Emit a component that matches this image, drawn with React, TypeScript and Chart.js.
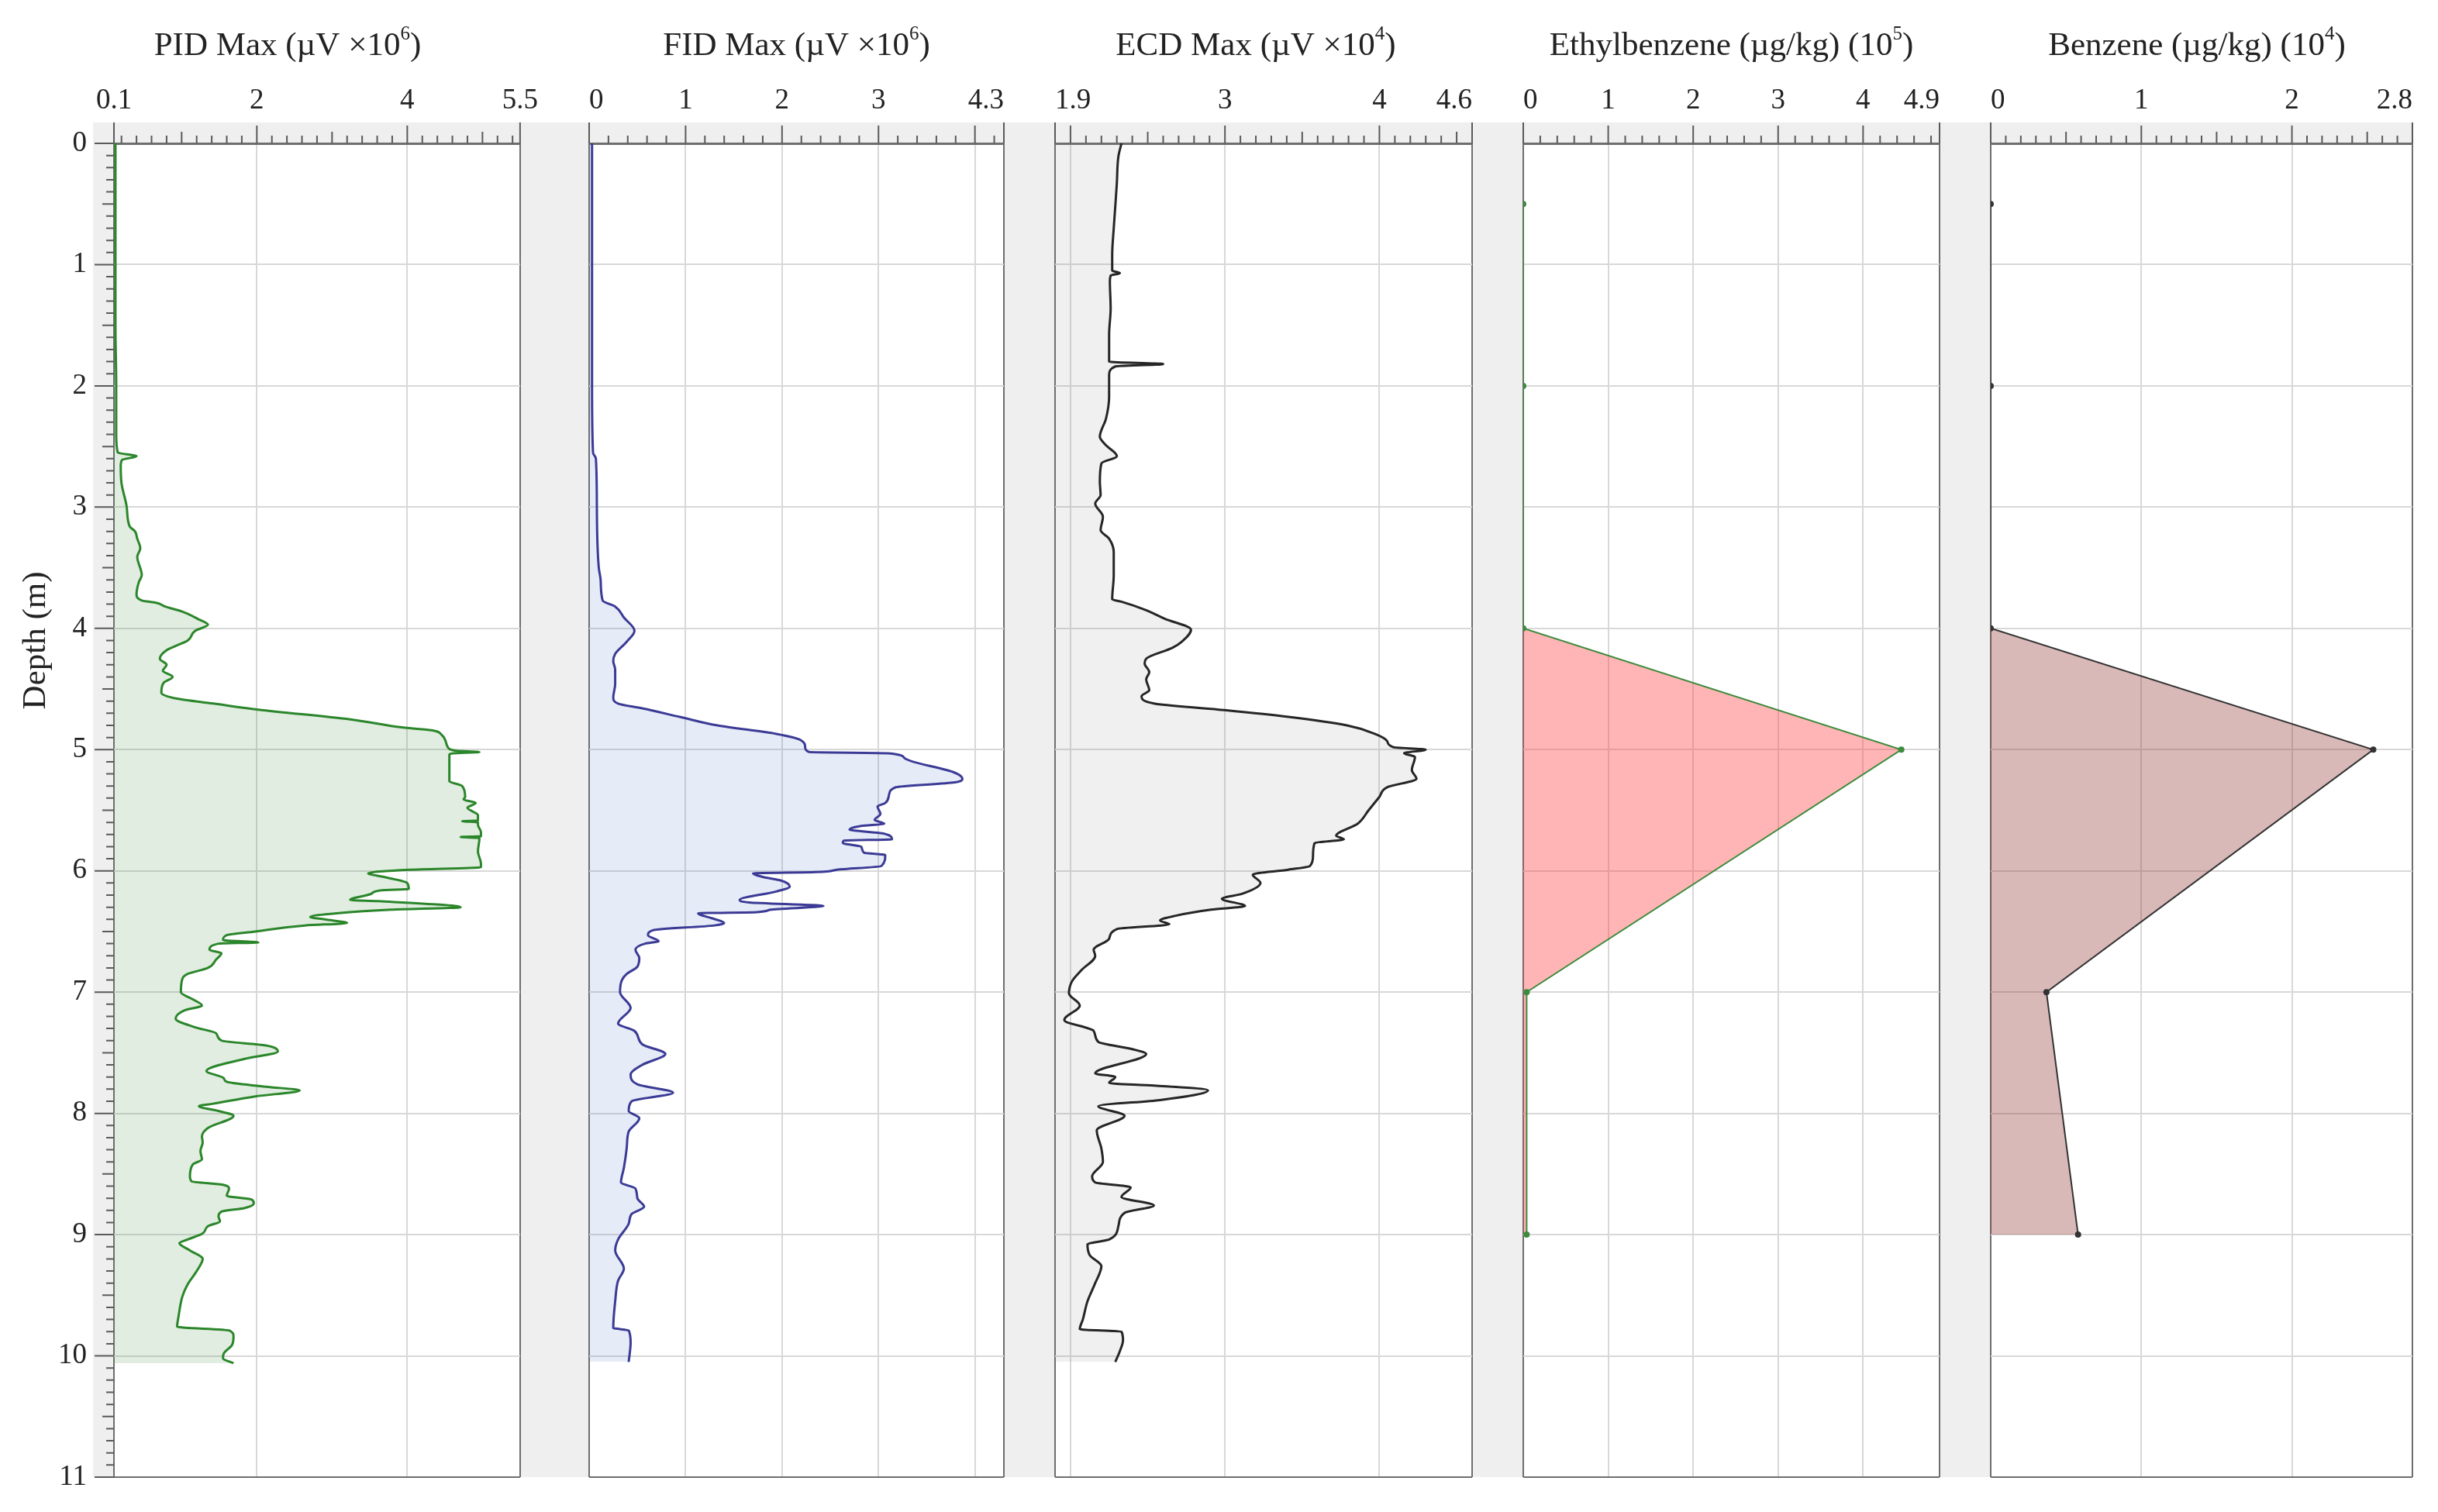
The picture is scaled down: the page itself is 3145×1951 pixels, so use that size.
import { useEffect, useRef } from 'react'
import { Chart, registerables } from 'chart.js'

Chart.register(...registerables)

// ---- readings off the log (depth in m) ----

const pidDepth = [
  0, 0.5, 1, 1.5, 2, 2.4, 2.55, 2.58, 2.61, 2.65, 2.8, 3, 3.16, 3.2, 3.26, 3.34, 3.41, 3.56, 3.62, 3.72,
  3.77, 3.79, 3.82, 3.86, 3.92, 3.97, 4.02, 4.1, 4.15, 4.18, 4.25, 4.3, 4.35, 4.4, 4.45, 4.53, 4.58, 4.62,
  4.67, 4.75, 4.82, 4.84, 4.88, 4.93, 4.98, 5.01, 5.02, 5.03, 5.04, 5.26, 5.3, 5.39, 5.41, 5.44, 5.48, 5.54,
  5.585, 5.59, 5.6, 5.62, 5.68, 5.715, 5.72, 5.73, 5.84, 5.94, 5.97, 5.99, 6.02, 6.05, 6.1, 6.15, 6.16,
  6.19, 6.24, 6.25, 6.3, 6.32, 6.35, 6.38, 6.4, 6.43, 6.45, 6.5, 6.53, 6.57, 6.59, 6.6, 6.65, 6.68, 6.73,
  6.8, 6.85, 6.89, 7, 7.06, 7.11, 7.15, 7.22, 7.29, 7.34, 7.4, 7.44, 7.49, 7.55, 7.65, 7.71, 7.74, 7.78,
  7.81, 7.86, 7.92, 7.94, 7.98, 8.02, 8.12, 8.19, 8.24, 8.31, 8.38, 8.42, 8.52, 8.56, 8.59, 8.62, 8.68,
  8.71, 8.74, 8.78, 8.81, 8.85, 8.89, 8.93, 8.99, 9.04, 9.07, 9.13, 9.2, 9.25, 9.32, 9.41, 9.51, 9.67,
  9.76, 9.79, 9.84, 9.91, 9.98, 10.02, 10.06,
]
const pidMax = [
  0.12, 0.12, 0.12, 0.12, 0.13, 0.13, 0.15, 0.4, 0.21, 0.19, 0.2, 0.27, 0.31, 0.38, 0.41, 0.45, 0.41, 0.47, 0.43, 0.4,
  0.47, 0.67, 0.78, 1.0, 1.21, 1.35, 1.18, 1.08, 0.9, 0.8, 0.71, 0.8, 0.75, 0.88, 0.76, 0.73, 0.94, 1.42,
  2.02, 3.24, 3.97, 4.32, 4.46, 4.51, 4.54, 4.66, 4.96, 4.62, 4.56, 4.56, 4.73, 4.77, 4.75, 4.91, 4.8, 4.94,
  4.94, 4.73, 4.94, 4.94, 4.98, 4.98, 4.71, 4.96, 4.94, 4.98, 4.98, 4.04, 3.48, 3.69, 4.0, 4.02, 3.66,
  3.52, 3.24, 3.62, 4.71, 3.79, 3.06, 2.71, 2.9, 3.2, 2.64, 1.98, 1.6, 1.55, 2.02, 1.49, 1.37, 1.53, 1.46,
  1.35, 1.08, 1.01, 0.99, 1.15, 1.27, 1.04, 0.92, 1.18, 1.46, 1.53, 2.12, 2.28, 1.84, 1.33, 1.56, 1.6, 2.12,
  2.57, 1.98, 1.42, 1.23, 1.49, 1.69, 1.35, 1.27, 1.28, 1.25, 1.27, 1.15, 1.11, 1.13, 1.56, 1.63, 1.6,
  1.93, 1.96, 1.84, 1.53, 1.49, 1.51, 1.35, 1.28, 1.08, 0.97, 1.11, 1.28, 1.25, 1.18, 1.08, 1.01, 0.96,
  0.94, 1.63, 1.69, 1.67, 1.56, 1.55, 1.69,
]

const fidDepth = [
  0, 1, 2, 2.55, 2.6, 3, 3.5, 3.61, 3.77, 3.82, 3.91, 4.02, 4.11, 4.21, 4.27, 4.34, 4.41, 4.46, 4.57, 4.62,
  4.66, 4.73, 4.8, 4.87, 4.92, 4.98, 5.02, 5.03, 5.07, 5.19, 5.24, 5.27, 5.31, 5.37, 5.44, 5.47, 5.53, 5.58,
  5.61, 5.63, 5.66, 5.69, 5.74, 5.75, 5.77, 5.8, 5.85, 5.87, 5.96, 5.99, 6.01, 6.02, 6.05, 6.08, 6.13, 6.17,
  6.24, 6.26, 6.29, 6.32, 6.34, 6.35, 6.39, 6.43, 6.45, 6.49, 6.53, 6.58, 6.6, 6.65, 6.72, 6.79, 6.85, 6.9,
  7, 7.13, 7.26, 7.32, 7.43, 7.51, 7.6, 7.68, 7.76, 7.83, 7.9, 7.98, 8.04, 8.15, 8.28, 8.45, 8.57, 8.62,
  8.7, 8.77, 8.83, 8.91, 9.04, 9.13, 9.28, 9.38, 9.55, 9.77, 9.79, 9.89, 10.05,
]
const fidMax = [
  0.03, 0.03, 0.03, 0.04, 0.07, 0.08, 0.1, 0.12, 0.14, 0.27, 0.36, 0.47, 0.39, 0.27, 0.25, 0.27, 0.27, 0.27, 0.25, 0.3,
  0.55, 0.94, 1.33, 1.94, 2.19, 2.24, 2.28, 3.1, 3.27, 3.79, 3.87, 3.79, 3.18, 3.11, 3.07, 2.99, 3.02, 2.96,
  3.06, 2.82, 2.7, 3.04, 3.14, 2.64, 2.63, 2.82, 2.85, 3.07, 3.03, 2.57, 2.35, 1.7, 1.8, 1.99, 2.08, 1.94,
  1.56, 1.66, 2.43, 1.88, 1.74, 1.13, 1.27, 1.4, 1.3, 0.66, 0.61, 0.72, 0.58, 0.48, 0.52, 0.5, 0.39, 0.34,
  0.32, 0.43, 0.3, 0.47, 0.55, 0.79, 0.55, 0.43, 0.5, 0.87, 0.44, 0.41, 0.52, 0.41, 0.39, 0.36, 0.33, 0.48,
  0.5, 0.57, 0.44, 0.41, 0.3, 0.27, 0.36, 0.3, 0.27, 0.25, 0.41, 0.43, 0.41,
]

const ecdDepth = [
  0, 0.11, 0.33, 0.52, 0.7, 0.92, 1.05, 1.07, 1.09, 1.14, 1.36, 1.58, 1.8, 1.82, 1.84, 1.91, 2.09, 2.27, 2.42,
  2.49, 2.58, 2.64, 2.79, 2.9, 2.97, 3.08, 3.19, 3.26, 3.37, 3.56, 3.76, 3.78, 3.85, 3.92, 4.01, 4.11, 4.16,
  4.25, 4.29, 4.36, 4.42, 4.51, 4.56, 4.62, 4.67, 4.73, 4.8, 4.87, 4.93, 4.98, 5.0, 5.03, 5.06, 5.17, 5.24,
  5.31, 5.39, 5.5, 5.61, 5.71, 5.74, 5.77, 5.88, 5.96, 5.99, 6.03, 6.1, 6.19, 6.23, 6.29, 6.32, 6.37, 6.41,
  6.44, 6.48, 6.56, 6.65, 6.7, 6.82, 6.91, 7.01, 7.11, 7.23, 7.32, 7.41, 7.47, 7.51, 7.67, 7.7, 7.75, 7.77,
  7.81, 7.89, 7.94, 8.02, 8.14, 8.29, 8.4, 8.52, 8.57, 8.61, 8.69, 8.76, 8.82, 8.93, 9.04, 9.08, 9.17, 9.26,
  9.4, 9.55, 9.7, 9.78, 9.8, 9.87, 9.96, 10.05,
]
const ecdMax = [
  2.33, 2.31, 2.3, 2.29, 2.28, 2.27, 2.27, 2.32, 2.26, 2.255, 2.26, 2.25, 2.25, 2.6, 2.29, 2.25, 2.25, 2.23, 2.19,
  2.23, 2.3, 2.2, 2.19, 2.195, 2.16, 2.21, 2.195, 2.25, 2.28, 2.28, 2.27, 2.33, 2.49, 2.61, 2.78, 2.72, 2.66,
  2.49, 2.48, 2.51, 2.49, 2.51, 2.46, 2.54, 2.96, 3.41, 3.79, 3.97, 4.05, 4.09, 4.3, 4.16, 4.23, 4.21, 4.24,
  4.05, 4.0, 3.93, 3.86, 3.72, 3.77, 3.58, 3.57, 3.55, 3.41, 3.18, 3.23, 3.11, 2.98, 3.13, 2.91, 2.68, 2.58,
  2.64, 2.3, 2.25, 2.15, 2.16, 2.07, 2.01, 1.99, 2.06, 1.96, 2.15, 2.18, 2.4, 2.49, 2.16, 2.29, 2.25, 2.54,
  2.89, 2.58, 2.18, 2.35, 2.17, 2.2, 2.21, 2.14, 2.16, 2.39, 2.33, 2.54, 2.35, 2.31, 2.25, 2.11, 2.125, 2.2,
  2.16, 2.11, 2.08, 2.06, 2.33, 2.34, 2.32, 2.29,
]

// soil samples
const sampleDepth = [0.5, 2, 4, 5, 7, 9]
const ethylbenzene = [0, 0, 0, 4.45, 0.04, 0.04]
const benzene = [0, 0, 0, 2.54, 0.37, 0.58]

// axis ticks
const depthTicks = [0, 1, 2, 3, 4, 5, 6, 7, 8, 9, 10, 11]
const pidTicks = [0.1, 2, 4, 5.5]
const fidTicks = [0, 1, 2, 3, 4, 4.3]
const ecdTicks = [1.9, 2, 3, 4, 4.6]
const ethTicks = [0, 1, 2, 3, 4, 4.9]
const benzTicks = [0, 1, 2, 2.8]
const fidUnlabelled = [4]
const ecdUnlabelled = [2]

// ---- layout ----
const PAGE_W = 3145
const PAGE_H = 1951
const PLOT_TOP = 185
const PLOT_BOTTOM = 1906
const BAND_TOP = 158
// the depth labels reserve (half a label + tick padding) below the plot, so the first track
// gets a taller canvas and a matching bottom padding
const DEPTH_AXIS_EXTRA = 25
const FONT = '"Liberation Serif", "Times New Roman", serif'
const TEXT = '#222222'
const BAND = '#efefef'
const GRID = '#d8d8d8'
const EDGE = '#6e6e6e'
const TICK = '#5a5a5a'

interface Track {
  title: [string, string, string]
  titleShift: number
  depth: number[]
  values: number[]
  min: number
  max: number
  ticks: number[]
  unlabelled: number[]
  minorStep: number
  majorStep: number
  midStep: number | null
  line: string
  fill: string
  lineWidth: number
  markers: boolean
  plotLeft: number
  plotRight: number
}

const tracks: Track[] = [
  {
    title: ['PID Max (µV ×10', '6', ')'], titleShift: -38,
    depth: pidDepth, values: pidMax, min: 0.1, max: 5.5, ticks: pidTicks, unlabelled: [],
    minorStep: 0.2, majorStep: 2, midStep: 1,
    line: '#2b862b', fill: 'rgba(80,150,70,0.17)', lineWidth: 3, markers: false,
    plotLeft: 147, plotRight: 701,
  },
  {
    title: ['FID Max (µV ×10', '6', ')'], titleShift: 0,
    depth: fidDepth, values: fidMax, min: 0, max: 4.3, ticks: fidTicks, unlabelled: fidUnlabelled,
    minorStep: 0.2, majorStep: 1, midStep: null,
    line: '#3b3b96', fill: 'rgba(90,130,200,0.15)', lineWidth: 3, markers: false,
    plotLeft: 753, plotRight: 1303,
  },
  {
    title: ['ECD Max (µV ×10', '4', ')'], titleShift: -10,
    depth: ecdDepth, values: ecdMax, min: 1.9, max: 4.6, ticks: ecdTicks, unlabelled: ecdUnlabelled,
    minorStep: 0.1, majorStep: 1, midStep: 0.5,
    line: '#262626', fill: 'rgba(128,128,128,0.12)', lineWidth: 3, markers: false,
    plotLeft: 1353, plotRight: 1907,
  },
  {
    title: ['Ethylbenzene (µg/kg) (10', '5', ')'], titleShift: 0,
    depth: sampleDepth, values: ethylbenzene, min: 0, max: 4.9, ticks: ethTicks, unlabelled: [],
    minorStep: 0.2, majorStep: 1, midStep: null,
    line: '#3d8b3d', fill: 'rgba(255,60,60,0.38)', lineWidth: 2, markers: true,
    plotLeft: 1958, plotRight: 2511,
  },
  {
    title: ['Benzene (µg/kg) (10', '4', ')'], titleShift: -6,
    depth: sampleDepth, values: benzene, min: 0, max: 2.8, ticks: benzTicks, unlabelled: [],
    minorStep: 0.1, majorStep: 1, midStep: 0.5,
    line: '#333333', fill: 'rgba(140,40,40,0.33)', lineWidth: 2, markers: true,
    plotLeft: 2560, plotRight: 3112,
  },
]

function canvasLeft(i: number) {
  return i === 0 ? 0 : Math.floor((tracks[i - 1].plotRight + tracks[i].plotLeft) / 2)
}
function canvasRight(i: number) {
  return i === tracks.length - 1 ? PAGE_W : Math.floor((tracks[i].plotRight + tracks[i + 1].plotLeft) / 2)
}

function onStep(v: number, step: number) {
  const q = v / step
  return Math.abs(q - Math.round(q)) < 1e-6
}

// background bands, minor ticks, titles
function makeFrame(track: Track, index: number) {
  const last = index === tracks.length - 1
  return {
    id: 'logFrame',
    beforeDraw(chart: Chart) {
      const { ctx, chartArea: area, width } = chart
      const left = index === 0 ? area.left - 27 : 0
      const right = last ? area.right : width
      ctx.save()
      ctx.fillStyle = BAND
      ctx.fillRect(left, BAND_TOP, right - left, area.bottom - BAND_TOP)
      ctx.fillStyle = '#ffffff'
      ctx.fillRect(area.left, area.top, area.right - area.left, area.bottom - area.top)
      ctx.restore()
    },
    afterDraw(chart: Chart) {
      const { ctx, chartArea: area } = chart
      const xs = chart.scales.x
      const ys = chart.scales.y
      ctx.save()
      ctx.strokeStyle = TICK
      ctx.lineWidth = 2
      ctx.beginPath()
      for (const v of [track.min, track.max]) {
        const px = xs.getPixelForValue(v)
        ctx.moveTo(px, BAND_TOP)
        ctx.lineTo(px, area.top)
      }
      const first = Math.ceil(track.min / track.minorStep - 1e-6)
      for (let k = first; k * track.minorStep <= track.max + 1e-6; k++) {
        const v = +(k * track.minorStep).toFixed(3)
        if (v <= track.min + 1e-6 || v >= track.max - 1e-6) continue
        const len = onStep(v, track.majorStep) ? 23 : track.midStep && onStep(v, track.midStep) ? 15 : 10
        const px = xs.getPixelForValue(v)
        ctx.moveTo(px, area.top)
        ctx.lineTo(px, area.top - len)
      }
      if (index === 0) {
        for (let k = 0; k <= 110; k++) {
          const len = k % 10 === 0 ? 25 : k % 5 === 0 ? 15 : 10
          const py = ys.getPixelForValue(k / 10)
          ctx.moveTo(area.left - len, py)
          ctx.lineTo(area.left, py)
        }
      }
      ctx.stroke()

      // track title with a raised exponent
      const [main, sup, tail] = track.title
      const mainFont = `43px ${FONT}`
      const supFont = `25px ${FONT}`
      ctx.fillStyle = TEXT
      ctx.textAlign = 'left'
      ctx.textBaseline = 'alphabetic'
      ctx.font = mainFont
      const w1 = ctx.measureText(main).width
      const w3 = ctx.measureText(tail).width
      ctx.font = supFont
      const w2 = ctx.measureText(sup).width
      let x = (area.left + area.right) / 2 + track.titleShift - (w1 + w2 + w3) / 2
      ctx.font = mainFont
      ctx.fillText(main, x, 71)
      x += w1
      ctx.font = supFont
      ctx.fillText(sup, x, 51)
      x += w2
      ctx.font = mainFont
      ctx.fillText(tail, x, 71)

      if (index === 0) {
        ctx.translate(47, ys.getPixelForValue(4.1))
        ctx.rotate(-Math.PI / 2)
        ctx.textAlign = 'center'
        ctx.textBaseline = 'middle'
        ctx.font = mainFont
        ctx.fillText('Depth (m)', 0, 0)
      }
      ctx.restore()
    },
  }
}

function canvasHeight(index: number) {
  return index === 0 ? PAGE_H + DEPTH_AXIS_EXTRA : PAGE_H
}

function buildConfig(track: Track, index: number, width: number): any {
  const left = canvasLeft(index)
  const plotLeft = track.plotLeft - left
  const rightPad = width - (track.plotRight - left)
  const labelled = track.ticks.filter((v) => !track.unlabelled.includes(v))
  const tickFont = { family: FONT, size: 37 }

  return {
    type: 'line',
    data: {
      datasets: [{
        data: track.depth.map((d, i) => ({ x: track.values[i], y: d })),
        borderColor: track.line,
        backgroundColor: track.fill,
        borderWidth: track.lineWidth,
        // fill horizontally back to the left edge of the track
        fill: { value: track.min },
        tension: 0,
        cubicInterpolationMode: track.markers ? 'default' : 'monotone',
        pointRadius: track.markers ? 4 : 0,
        pointBackgroundColor: track.line,
        pointBorderWidth: 0,
      }],
    },
    options: {
      responsive: false,
      animation: false,
      devicePixelRatio: 1,
      events: [],
      indexAxis: 'y',
      layout: {
        padding: { top: 0, left: 0, right: rightPad, bottom: canvasHeight(index) - PLOT_BOTTOM },
      },
      plugins: { legend: { display: false }, tooltip: { enabled: false } },
      scales: {
        x: {
          type: 'linear',
          position: 'top',
          min: track.min,
          max: track.max,
          afterBuildTicks: (s: any) => { s.ticks = track.ticks.map((value) => ({ value })) },
          afterFit: (s: any) => { s.height = PLOT_TOP },
          ticks: {
            callback: (v: number) => (labelled.includes(v) ? String(v) : ''),
            autoSkip: false,
            maxRotation: 0,
            minRotation: 0,
            align: index === 0 ? 'center' : 'inner',
            padding: 33,
            color: TEXT,
            font: tickFont,
          },
          grid: {
            drawTicks: false,
            color: (c: any) => (c.tick && (c.tick.value === track.min || c.tick.value === track.max) ? EDGE : GRID),
            lineWidth: 2,
          },
          border: { display: true, color: EDGE, width: 3 },
        },
        y: {
          type: 'linear',
          position: 'left',
          reverse: true,
          min: 0,
          max: 11,
          afterBuildTicks: (s: any) => { s.ticks = depthTicks.map((value) => ({ value })) },
          afterFit: (s: any) => { s.width = plotLeft },
          ticks: {
            display: index === 0,
            autoSkip: false,
            padding: 35,
            color: TEXT,
            font: tickFont,
          },
          grid: {
            drawTicks: false,
            color: (c: any) => (c.tick && (c.tick.value === 0 || c.tick.value === 11) ? EDGE : GRID),
            lineWidth: 2,
          },
          border: { display: false },
        },
      },
    },
    plugins: [makeFrame(track, index)],
  }
}

function LogTrack({ track, index }: { track: Track; index: number }) {
  const canvasRef = useRef<HTMLCanvasElement>(null)
  const left = canvasLeft(index)
  const width = canvasRight(index) - left
  const height = canvasHeight(index)

  useEffect(() => {
    if (!canvasRef.current) return
    const chart = new Chart(canvasRef.current, buildConfig(track, index, width))
    return () => chart.destroy()
  }, [track, index, width])

  return (
    <canvas
      ref={canvasRef}
      width={width}
      height={height}
      style={{ position: 'absolute', left, top: 0, width, height }}
    />
  )
}

export default function App() {
  useEffect(() => {
    document.body.style.margin = '0'
    document.body.style.background = '#ffffff'
  }, [])

  return (
    <div style={{ position: 'relative', width: PAGE_W, height: PAGE_H, overflow: 'hidden', background: '#ffffff' }}>
      {tracks.map((t, i) => (
        <LogTrack key={i} track={t} index={i} />
      ))}
    </div>
  )
}
